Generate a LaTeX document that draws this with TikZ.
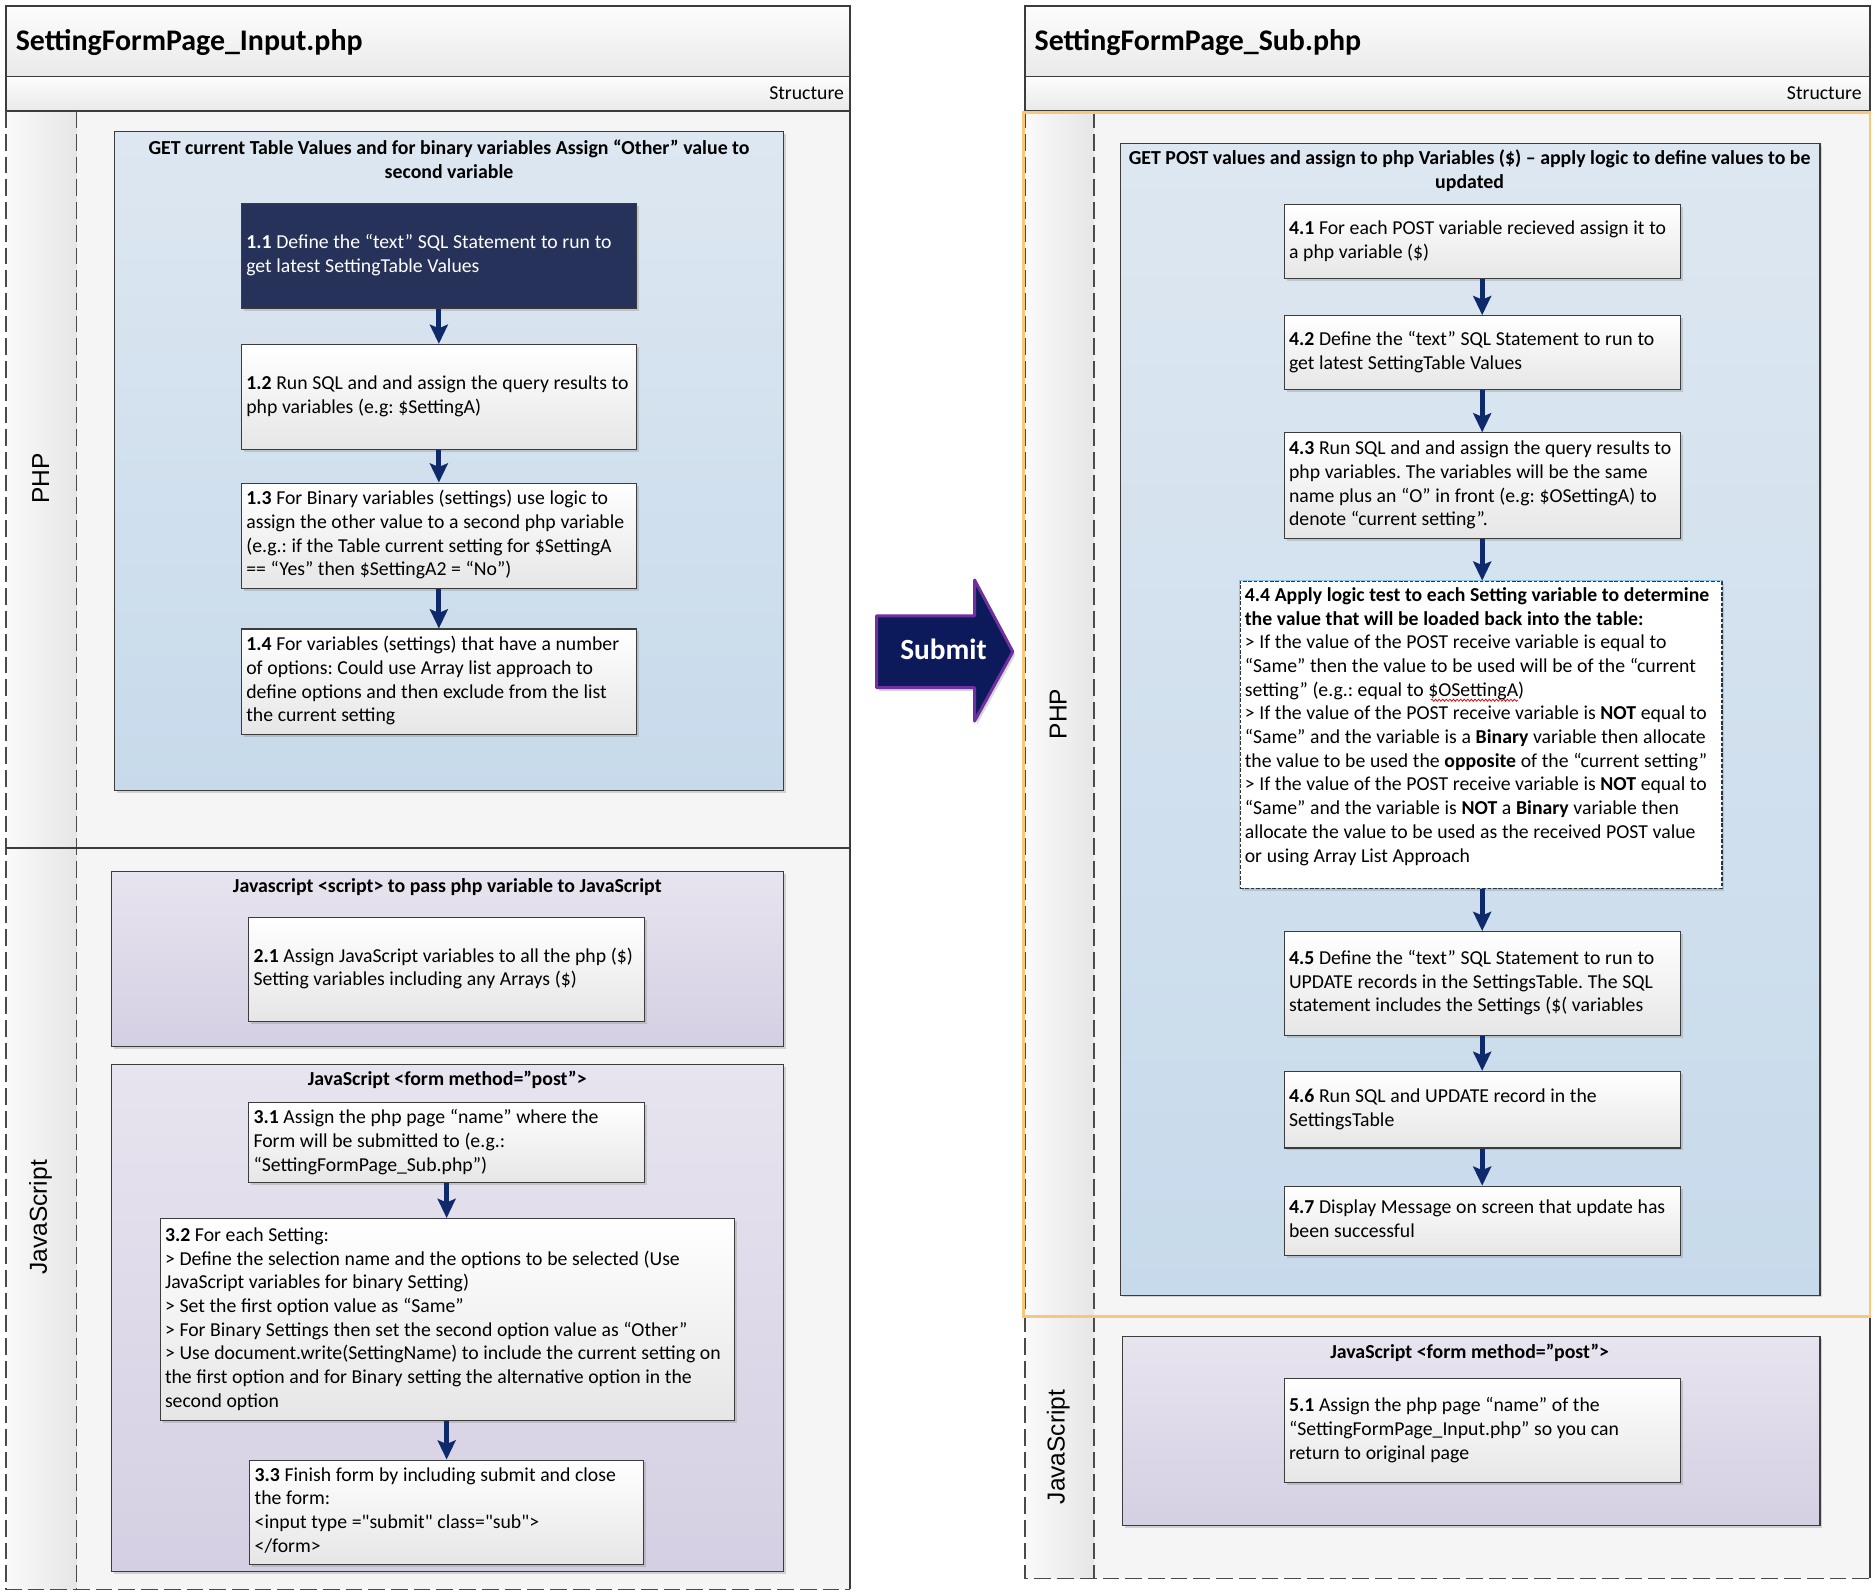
\documentclass[tikz,border=0pt]{standalone}
\usepackage{fontspec}
\setmainfont{Carlito}
\newfontfamily\lanefont{Liberation Sans}
\usetikzlibrary{arrows.meta,shadows,decorations.pathmorphing,calc}
\frenchspacing

\definecolor{framegray}{HTML}{3C3C3C}
\definecolor{dashgray}{HTML}{4A4A4A}
\definecolor{lanefill}{HTML}{F5F5F5}
\definecolor{bandtop}{HTML}{FDFDFD}
\definecolor{bandbot}{HTML}{E9E9E9}
\definecolor{colleft}{HTML}{FAFAFA}
\definecolor{colright}{HTML}{E6E6E6}
\definecolor{bluetop}{HTML}{DDE7F1}
\definecolor{bluebot}{HTML}{C7DAEB}
\definecolor{purtop}{HTML}{E7E4EF}
\definecolor{purbot}{HTML}{D5CFE3}
\definecolor{boxbot}{HTML}{E6E6E6}
\definecolor{navybox}{HTML}{263259}
\definecolor{flowblue}{HTML}{0E2A6A}
\definecolor{submitfill}{HTML}{0C1A5B}
\definecolor{submitedge}{HTML}{7030A0}
\definecolor{laneorange}{HTML}{F8C77D}
\definecolor{dashblue}{HTML}{8CC4EA}

% one left-aligned block of lines that never re-wraps, with fixed word spaces
\newcommand\boxlines[1]{\spaceskip=3.9pt\relax\begin{tabular}{@{}l@{}}#1\end{tabular}}

% step box from its corners: [style]{name}{x1}{y1}{x2}{y2}{text}
\newcommand\stepnode[7][stepbox]{%
  \pgfmathsetmacro\stepW{#5-#3}%
  \pgfmathsetmacro\stepH{#6-#4}%
  \pgfmathsetmacro\stepT{#5-#3-8}%
  \node[#1,minimum width=\stepW pt,minimum height=\stepH pt,text width=\stepT pt]
    (#2) at ({(#3+#5)/2},{(#4+#6)/2}) {\boxlines{#7}};}

% container from its corners: {name}{style}{x1}{y1}{x2}{y2}
\newcommand\groupnode[6]{%
  \pgfmathsetmacro\stepW{#5-#3}%
  \pgfmathsetmacro\stepH{#6-#4}%
  \node[#2,minimum width=\stepW pt,minimum height=\stepH pt]
    (#1) at ({(#3+#5)/2},{(#4+#6)/2}) {};}

\tikzset{
  bodyfont/.style={font=\fontsize{16.5}{19.8}\selectfont},
  softshadow/.style={drop shadow={shadow xshift=2pt,shadow yshift=-2pt,opacity=0.3,fill=black!50}},
  basestep/.style={draw=framegray,line width=0.9pt,inner xsep=4pt,inner ysep=0pt,
    align=left,bodyfont,softshadow},
  stepbox/.style={basestep,top color=white,bottom color=boxbot},
  navystep/.style={basestep,fill=navybox,text=white},
  dashstep/.style={basestep,fill=white,draw=black!80,dash pattern=on 3pt off 1.5pt,
    preaction={draw=dashblue,line width=1.6pt,solid}},
  bluegroup/.style={draw=framegray,line width=0.9pt,top color=bluetop,bottom color=bluebot,
    inner sep=0pt,softshadow},
  purplegroup/.style={draw=framegray,line width=0.9pt,top color=purtop,bottom color=purbot,
    inner sep=0pt,softshadow},
  grouptitle/.style={font=\bfseries\fontsize{16.6}{20}\selectfont,align=center,inner sep=0pt},
  flow/.style={draw=flowblue,line width=4pt,-{Stealth[length=16pt,width=15pt,inset=3pt]}},
  frameline/.style={draw=framegray,line width=1.3pt},
  lanedash/.style={draw=dashgray,line width=1.2pt,dash pattern=on 14pt off 5pt},
  lanelabel/.style={rotate=90,font=\lanefont\fontsize{20.5}{24}\selectfont,inner sep=0pt},
  pagetitle/.style={anchor=base west,font=\bfseries\fontsize{25}{30}\selectfont,inner sep=0pt},
  structlabel/.style={anchor=east,font=\fontsize{16.5}{20}\selectfont,inner sep=0pt},
}

\begin{document}
\begin{tikzpicture}[x=1pt,y=-1pt]
\fill[white] (0,0) rectangle (1568,1331);
\useasboundingbox (0,0) rectangle (1568,1331);

% ---------------- page frame: SettingFormPage_Input.php ----------------
\fill[top color=bandtop,bottom color=bandbot] (5,5) rectangle (711,64);
\fill[top color=bandtop,bottom color=bandbot] (5,64) rectangle (711,93);
\fill[lanefill] (5,93) rectangle (711,1329);
\fill[left color=colleft,right color=colright] (5,93) rectangle (64,1329);
\draw[frameline] (5,5) rectangle (711,93);
\draw[frameline] (5,64) -- (711,64);
\draw[frameline] (711,93) -- (711,1329);
\draw[lanedash] (5,93) -- (5,1329) -- (711,1329);
\draw[lanedash] (64,93) -- (64,1329);
\draw[frameline] (5,709) -- (711,709);
\node[pagetitle] (titleL) at (13,42) {SettingFormPage\_Input.php};
\node[structlabel] (structL) at (706,78) {Structure};
\node[lanelabel] (phpL) at (34,400) {PHP};
\node[lanelabel] (jsL) at (34,1018) {JavaScript};

% ---------------- page frame: SettingFormPage_Sub.php ----------------
\fill[top color=bandtop,bottom color=bandbot] (857,5) rectangle (1564,64);
\fill[top color=bandtop,bottom color=bandbot] (857,64) rectangle (1564,93);
\fill[lanefill] (857,93) rectangle (1564,1320);
\fill[left color=colleft,right color=colright] (857,93) rectangle (915,1320);
\draw[frameline] (857,5) rectangle (1564,93);
\draw[frameline] (857,64) -- (1564,64);
\draw[frameline] (1564,93) -- (1564,1320);
\draw[lanedash] (857,93) -- (857,1320) -- (1564,1320);
\draw[lanedash] (915,93) -- (915,1320);
\draw[frameline] (857,1101) -- (1564,1101);
\node[pagetitle] (titleR) at (865,42) {SettingFormPage\_Sub.php};
\node[structlabel] (structR) at (1557,78) {Structure};
\node[lanelabel] (phpR) at (885,597) {PHP};
\node[lanelabel] (jsR) at (885,1210) {JavaScript};

% ---------------- PHP: read current values ----------------
\groupnode{g1}{bluegroup}{96}{110}{655}{661}
\node[grouptitle] (g1t) at (375.5,133) {GET current Table Values and for binary variables Assign “Other” value to\\second variable};
\stepnode[navystep]{b11}{202}{170}{532}{258}{\textbf{1.1} Define the “text” SQL Statement to run to\\get latest SettingTable Values}
\stepnode{b12}{202}{288}{532}{376}{\textbf{1.2} Run SQL and and assign the query results to\\php variables (e.g: \$SettingA)}
\stepnode{b13}{202}{404}{532}{492}{\textbf{1.3} For Binary variables (settings) use logic to\\assign the other value to a second php variable\\(e.g.: if the Table current setting for \$SettingA\\== “Yes” then \$SettingA2 = “No”)}
\stepnode{b14}{202}{526}{532}{614}{\textbf{1.4} For variables (settings) that have a number\\of options: Could use Array list approach to\\define options and then exclude from the list\\the current setting}
\draw[flow] (b11.south) -- (b12.north);
\draw[flow] (b12.south) -- (b13.north);
\draw[flow] (b13.south) -- (b14.north);

% ---------------- JavaScript: pass variables ----------------
\groupnode{g2}{purplegroup}{93}{729}{655}{875}
\node[grouptitle] (g2t) at (374,742) {Javascript <script> to pass php variable to JavaScript};
\stepnode{b21}{208}{767}{539}{854}{\textbf{2.1} Assign JavaScript variables to all the php (\$)\\Setting variables including any Arrays (\$)}

% ---------------- JavaScript: form ----------------
\groupnode{g3}{purplegroup}{93}{890}{655}{1314}
\node[grouptitle] (g3t) at (374,903) {JavaScript <form method=”post”>};
\stepnode{b31}{208}{922}{539}{989}{\textbf{3.1} Assign the php page “name” where the\\Form will be submitted to (e.g.:\\“SettingFormPage\_Sub.php”)}
\stepnode{b32}{134}{1019}{614}{1188}{\textbf{3.2} For each Setting:\\> Define the selection name and the options to be selected (Use\\JavaScript variables for binary Setting)\\> Set the first option value as “Same”\\> For Binary Settings then set the second option value as “Other”\\> Use document.write(SettingName) to include the current setting on\\the first option and for Binary setting the alternative option in the\\second option}
\stepnode{b33}{209}{1221}{538}{1308}{\textbf{3.3} Finish form by including submit and close\\the form:\\<input type =\textquotedbl submit\textquotedbl{} class=\textquotedbl sub\textquotedbl>\\</form>}
\draw[flow] (b31.south) -- (b31.south |- b32.north);
\draw[flow] (b31.south |- b32.south) -- (b31.south |- b33.north);

% ---------------- PHP: receive and update ----------------
\groupnode{g4}{bluegroup}{937}{120}{1522}{1083}
\node[grouptitle] (g4t) at (1229,143) {GET POST values and assign to php Variables (\$) – apply logic to define values to be\\updated};
\stepnode{b41}{1074}{171}{1405}{233}{\textbf{4.1} For each POST variable recieved assign it to\\a php variable (\$)}
\stepnode{b42}{1074}{264}{1405}{326}{\textbf{4.2} Define the “text” SQL Statement to run to\\get latest SettingTable Values}
\stepnode{b43}{1074}{362}{1405}{450}{\textbf{4.3} Run SQL and and assign the query results to\\php variables. The variables will be the same\\name plus an “O” in front (e.g: \$OSettingA) to\\denote “current setting”.}
\stepnode[dashstep]{b44}{1037}{486}{1440}{743}{\textbf{4.4 Apply logic test to each Setting variable to determine}\\\textbf{the value that will be loaded back into the table:}\\> If the value of the POST receive variable is equal to\\“Same” then the value to be used will be of the “current\\setting” (e.g.: equal to \$OSettingA)\\> If the value of the POST receive variable is \textbf{NOT} equal to\\“Same” and the variable is a \textbf{Binary} variable then allocate\\the value to be used the \textbf{opposite} of the “current setting”\\> If the value of the POST receive variable is \textbf{NOT} equal to\\“Same” and the variable is \textbf{NOT} a \textbf{Binary} variable then\\allocate the value to be used as the received POST value\\or using Array List Approach\\[13pt]}
\stepnode{b45}{1074}{779}{1405}{866}{\textbf{4.5} Define the “text” SQL Statement to run to\\UPDATE records in the SettingsTable. The SQL\\statement includes the Settings (\$( variables}
\stepnode{b46}{1074}{896}{1405}{960}{\textbf{4.6} Run SQL and UPDATE record in the\\SettingsTable}
\stepnode{b47}{1074}{992}{1405}{1050}{\textbf{4.7} Display Message on screen that update has\\been successful}
\draw[flow] (b41.south) -- (b42.north);
\draw[flow] (b42.south) -- (b43.north);
\draw[flow] (b43.south) -- (b43.south |- b44.north);
\draw[flow] (b43.south |- b44.south) -- (b45.north);
\draw[flow] (b45.south) -- (b46.north);
\draw[flow] (b46.south) -- (b47.north);
% spell-check mark under the variable name
\draw[red!85!black,line width=0.6pt,decorate,decoration={snake,amplitude=0.9pt,segment length=3pt}]
  ($(b44.north west)+(160,100)$) -- ($(b44.north west)+(233,100)$);

% ---------------- JavaScript: return form ----------------
\groupnode{g5}{purplegroup}{939}{1118}{1522}{1276}
\node[grouptitle] (g5t) at (1229,1131) {JavaScript <form method=”post”>};
\stepnode{b51}{1074}{1153}{1405}{1240}{\textbf{5.1} Assign the php page “name” of the\\“SettingFormPage\_Input.php” so you can\\return to original page}

% highlighted PHP lane
\draw[laneorange,line width=2pt] (856,94) rectangle (1564,1101);

% ---------------- Submit arrow ----------------
\filldraw[fill=submitfill,draw=submitedge,line width=2.5pt,line join=round,
  drop shadow={shadow xshift=2pt,shadow yshift=-3pt,opacity=0.25,fill=black!60}]
  (733,515) -- (815,515) -- (815,485) -- (847,545) -- (815,603) -- (815,575) -- (733,575) -- cycle;
\node[font=\bfseries\fontsize{24.5}{29}\selectfont,text=white,inner sep=0pt] (submit) at (789,543) {Submit};
\end{tikzpicture}
\end{document}
